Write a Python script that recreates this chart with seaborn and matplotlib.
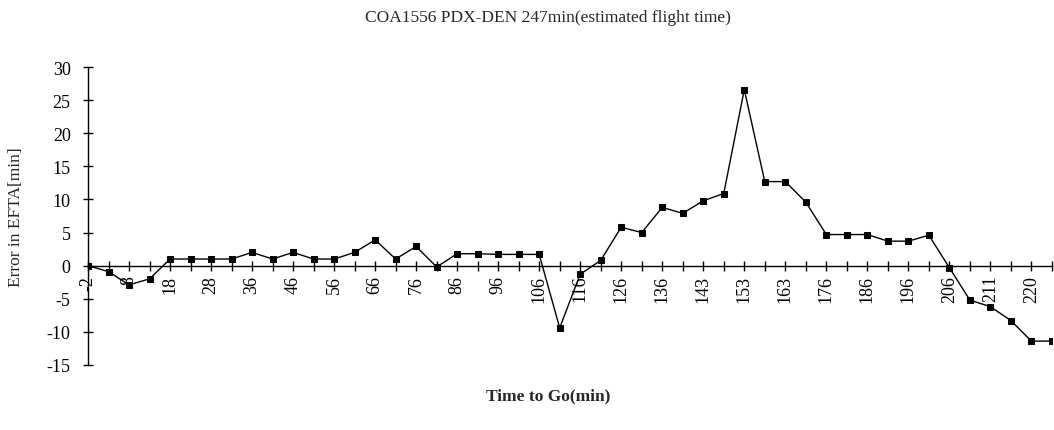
"""Error in EFTA vs time to go, COA1556 PDX-DEN."""

import numpy as np
import pandas as pd
import matplotlib
matplotlib.use("Agg")
from matplotlib import pyplot as plt
import seaborn as sns

# time-to-go categories (only every other one is labelled on the axis)
time_to_go = [
    -2, 3, 8, 13, 18, 23, 28, 32, 36, 41, 46, 51, 56, 61, 66, 71, 76, 81,
    86, 91, 96, 101, 106, 111, 116, 121, 126, 131, 136, 140, 143, 148, 153,
    158, 163, 170, 176, 181, 186, 191, 196, 201, 206, 208, 211, 216, 220, 225,
]
# error in EFTA [min]
error_efta = [
    0, -0.9, -2.9, -2, 1, 1, 1, 1, 2, 1, 2, 1, 1, 2, 3.9, 1, 2.9, -0.2,
    1.8, 1.8, 1.7, 1.7, 1.7, -9.4, -1.3, 0.8, 5.8, 5.0, 8.8, 7.9, 9.8, 10.9,
    26.6, 12.7, 12.7, 9.6, 4.7, 4.7, 4.7, 3.7, 3.7, 4.6, -0.3, -5.2, -6.2,
    -8.3, -11.4, -11.4,
]
y_ticks = [-15, -10, -5, 0, 5, 10, 15, 20, 25, 30]

df = pd.DataFrame({"ttg": [str(t) for t in time_to_go], "err": error_efta})

sns.set_style("white")
plt.rcParams["font.family"] = ["Liberation Serif", "DejaVu Serif"]
plt.rcParams["axes.unicode_minus"] = False

fig = plt.figure(figsize=(10.54, 4.31), dpi=100)
ax = fig.add_axes([0.0835, 0.151, 0.9145, 0.691])

sns.pointplot(
    data=df, x="ttg", y="err", order=df["ttg"], color="black",
    markers="s", markersize=5, linewidth=1, ax=ax,
)

ax.set_xlim(0, len(time_to_go) - 1)
ax.set_ylim(-15, 30)
ax.set_yticks(y_ticks)
ax.set_yticklabels([str(v) for v in y_ticks])
ax.set_xticks(np.arange(len(time_to_go)))
ax.set_xticklabels(
    [str(t) if i % 2 == 0 else "" for i, t in enumerate(time_to_go)]
)

for side in ["top", "right"]:
    ax.spines[side].set_visible(False)
ax.spines["bottom"].set_position(("data", 0))
for side in ["left", "bottom"]:
    ax.spines[side].set_linewidth(1)
    ax.spines[side].set_color("black")
ax.tick_params(axis="both", direction="inout", length=7, width=1,
               colors="black", bottom=True, left=True, labelsize=13)
ax.tick_params(axis="x", labelrotation=90, pad=3)
ax.tick_params(axis="y", pad=9)

ax.set_xlabel("")
ax.set_ylabel("Error in EFTA[min]", fontsize=12.5)
ax.yaxis.set_label_coords(-0.066, 0.5)

fig.text(0.52, 0.958, "COA1556 PDX-DEN 247min(estimated flight time)",
         ha="center", va="center", fontsize=12.5)
fig.text(0.52, 0.08, "Time to Go(min)", ha="center", va="center",
         fontsize=12.5, fontweight="bold")

plt.savefig("out.png", dpi=100)
